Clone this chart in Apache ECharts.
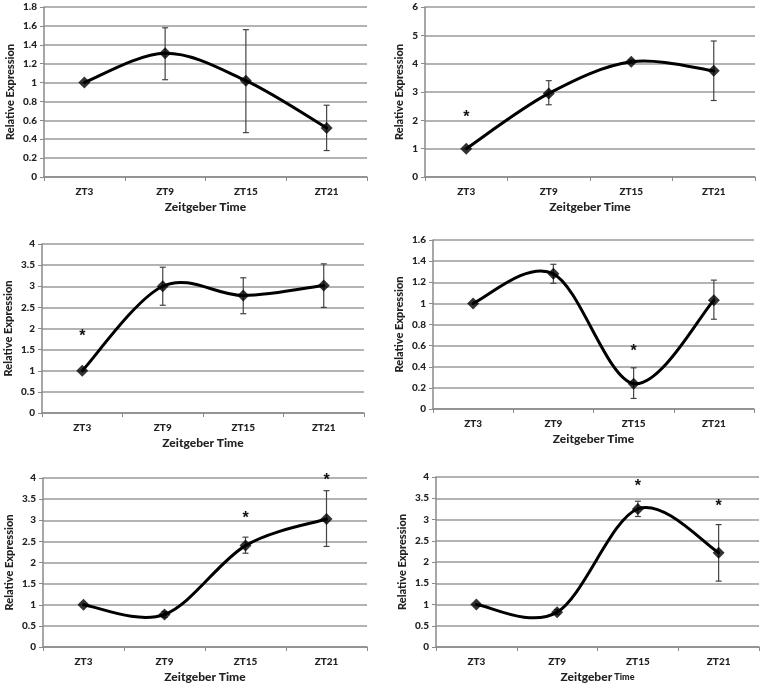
<!DOCTYPE html>
<html>
<head>
<meta charset="utf-8">
<script src="https://cdn.jsdelivr.net/npm/echarts@6/dist/echarts.min.js"></script>
<style>
html,body{margin:0;padding:0;background:#fff;}
#chart{width:764px;height:689px;}
</style>
</head>
<body>
<div id="chart"></div>
<script>
// ---- data ----
var categories = ['ZT3', 'ZT9', 'ZT15', 'ZT21'];

var p1Values = [1.00, 1.31, 1.02, 0.52];
var p1Low    = [null, 1.03, 0.47, 0.28];
var p1High   = [null, 1.58, 1.56, 0.76];
var p1Stars  = [];

var p2Values = [1.00, 2.95, 4.07, 3.75];
var p2Low    = [null, 2.55, 4.01, 2.70];
var p2High   = [null, 3.40, 4.13, 4.80];
var p2Stars  = [[0, 2.2]];

var p3Values = [1.00, 3.00, 2.78, 3.02];
var p3Low    = [null, 2.55, 2.35, 2.50];
var p3High   = [null, 3.45, 3.20, 3.53];
var p3Stars  = [[0, 1.87]];

var p4Values = [1.00, 1.28, 0.24, 1.03];
var p4Low    = [null, 1.19, 0.10, 0.85];
var p4High   = [null, 1.37, 0.39, 1.22];
var p4Stars  = [[2, 0.57]];

var p5Values = [1.00, 0.77, 2.40, 3.03];
var p5Low    = [null, 0.70, 2.22, 2.38];
var p5High   = [null, 0.84, 2.60, 3.70];
var p5Stars  = [[2, 3.10], [3, 4.02]];

var p6Values = [1.00, 0.82, 3.25, 2.22];
var p6Low    = [null, 0.77, 3.07, 1.55];
var p6High   = [null, 0.88, 3.43, 2.88];
var p6Stars  = [[2, 3.85], [3, 3.37]];

var yMax      = [1.8, 6, 4, 1.6, 4, 4];
var yInterval = [0.2, 1, 0.5, 0.2, 0.5, 0.5];
var yTitle = 'Relative Expression';
var xTitle = 'Zeitgeber Time';

// ---- layout ----
var panels = [
  {v: p1Values, lo: p1Low, hi: p1High, st: p1Stars, grid: {left: 44,  top: 7,   width: 323, height: 170}, yGap: 28},
  {v: p2Values, lo: p2Low, hi: p2High, st: p2Stars, grid: {left: 425, top: 7,   width: 330, height: 170}, yGap: 20},
  {v: p3Values, lo: p3Low, hi: p3High, st: p3Stars, grid: {left: 42,  top: 244, width: 322, height: 169}, yGap: 28},
  {v: p4Values, lo: p4Low, hi: p4High, st: p4Stars, grid: {left: 433, top: 240, width: 321, height: 169}, yGap: 28},
  {v: p5Values, lo: p5Low, hi: p5High, st: p5Stars, grid: {left: 43,  top: 478, width: 324, height: 169}, yGap: 28},
  {v: p6Values, lo: p6Low, hi: p6High, st: p6Stars, grid: {left: 436, top: 477, width: 323, height: 170}, yGap: 28, smallTime: true}
];

var FONT = 'Lato';
var FW = 900;
var grids = [], xAxes = [], yAxes = [], series = [];

function makeCurveRenderer(vals) {
  // Excel-like smoothed line: Catmull-Rom segments through the axis coordinates
  return function (params, api) {
    var i = params.dataIndex;
    if (i === 0) return null;
    var n = vals.length;
    function P(k) { k = Math.max(0, Math.min(n - 1, k)); return api.coord([k, vals[k]]); }
    var p0 = P(i - 2), p1 = P(i - 1), p2 = P(i), p3 = P(i + 1);
    var f = 1 / 6;
    return {
      type: 'bezierCurve',
      shape: {
        x1: p1[0], y1: p1[1], x2: p2[0], y2: p2[1],
        cpx1: p1[0] + (p2[0] - p0[0]) * f, cpy1: p1[1] + (p2[1] - p0[1]) * f,
        cpx2: p2[0] - (p3[0] - p1[0]) * f, cpy2: p2[1] - (p3[1] - p1[1]) * f
      },
      style: {stroke: '#000', lineWidth: 3, fill: null, lineCap: 'round'}
    };
  };
}

panels.forEach(function (p, i) {
  grids.push(Object.assign({containLabel: false}, p.grid));
  var xName = xTitle;
  var xNameStyle = {fontFamily: FONT, fontWeight: FW, fontSize: 12, color: '#222'};
  if (p.smallTime) {
    xName = '{a|Zeitgeber}{b| Time}';
    xNameStyle.rich = {
      a: {fontFamily: FONT, fontWeight: FW, fontSize: 12, color: '#222'},
      b: {fontFamily: FONT, fontWeight: FW, fontSize: 9, color: '#222'}
    };
  }
  xAxes.push({
    type: 'category', gridIndex: i, data: categories, boundaryGap: true,
    name: xName, nameLocation: 'middle', nameGap: 24, nameTextStyle: xNameStyle,
    axisLine: {lineStyle: {color: '#8a8a8a', width: 1.5}},
    axisTick: {show: true, length: 4, lineStyle: {color: '#8a8a8a'}},
    axisLabel: {fontFamily: FONT, fontWeight: FW, fontSize: 10, color: '#222', margin: 10},
    splitLine: {show: false}
  });
  yAxes.push({
    type: 'value', gridIndex: i, min: 0, max: yMax[i], interval: yInterval[i],
    name: yTitle, nameLocation: 'middle', nameGap: p.yGap,
    nameTextStyle: {fontFamily: FONT, fontWeight: FW, fontSize: 11, color: '#222'},
    axisLine: {show: true, lineStyle: {color: '#8a8a8a', width: 1.5}},
    axisTick: {show: true, length: 4, lineStyle: {color: '#8a8a8a'}},
    axisLabel: {fontFamily: FONT, fontWeight: FW, fontSize: 10, color: '#222', margin: 7},
    splitLine: {show: true, lineStyle: {color: '#9a9a9a', width: 1.5}}
  });

  var errData = [];
  for (var k = 0; k < categories.length; k++) {
    if (p.lo[k] != null) errData.push([k, p.lo[k], p.hi[k]]);
  }
  series.push({
    type: 'custom', xAxisIndex: i, yAxisIndex: i, data: errData, z: 3,
    renderItem: function (params, api) {
      var x = api.value(0);
      var lo = api.coord([x, api.value(1)]);
      var hi = api.coord([x, api.value(2)]);
      var cw = 3;
      var st = {stroke: '#444', lineWidth: 1.2};
      return {type: 'group', children: [
        {type: 'line', shape: {x1: lo[0], y1: lo[1], x2: hi[0], y2: hi[1]}, style: st},
        {type: 'line', shape: {x1: lo[0] - cw, y1: lo[1], x2: lo[0] + cw, y2: lo[1]}, style: st},
        {type: 'line', shape: {x1: hi[0] - cw, y1: hi[1], x2: hi[0] + cw, y2: hi[1]}, style: st}
      ]};
    }
  });
  series.push({
    type: 'custom', xAxisIndex: i, yAxisIndex: i, z: 4,
    data: p.v.map(function (v, k) { return [k, v]; }),
    renderItem: makeCurveRenderer(p.v)
  });
  series.push({
    type: 'scatter', xAxisIndex: i, yAxisIndex: i, data: p.v, z: 5,
    symbol: 'diamond', symbolSize: 12,
    itemStyle: {color: '#000'}
  });
  series.push({
    type: 'custom', xAxisIndex: i, yAxisIndex: i, data: p.st, z: 6,
    renderItem: function (params, api) {
      var c = api.coord([api.value(0), api.value(1)]);
      return {type: 'text', x: c[0], y: c[1] + 3,
        style: {text: '*', fontFamily: 'Liberation Sans', fontWeight: 'bold', fontSize: 16,
                fill: '#111', align: 'center', verticalAlign: 'middle'}};
    }
  });
});

var chart = echarts.init(document.getElementById('chart'), null, {renderer: 'canvas'});
chart.setOption({
  animation: false,
  backgroundColor: '#fff',
  grid: grids, xAxis: xAxes, yAxis: yAxes, series: series
});
</script>
</body>
</html>
